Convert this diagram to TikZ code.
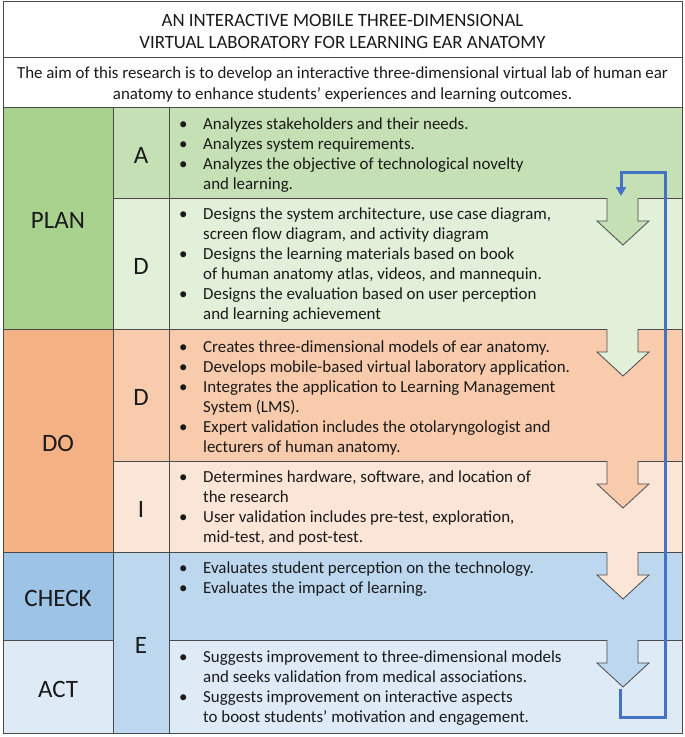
\documentclass[tikz,border=0pt]{standalone}
\usepackage{fontspec}
\setmainfont{Carlito}
\usetikzlibrary{arrows.meta}
\definecolor{bordercol}{HTML}{4A4A4A}
\definecolor{txtcol}{HTML}{1A1A1A}
\definecolor{planC}{HTML}{A9D18E}
\definecolor{planA}{HTML}{C5E0B4}
\definecolor{planD}{HTML}{E2F0D9}
\definecolor{doC}{HTML}{F4B183}
\definecolor{doD}{HTML}{F8CBAD}
\definecolor{doI}{HTML}{FBE5D6}
\definecolor{checkC}{HTML}{9DC3E6}
\definecolor{checkE}{HTML}{BDD7EE}
\definecolor{actC}{HTML}{DEEBF7}
\definecolor{fbblue}{HTML}{4472C4}
\newcommand{\bl}{\makebox[24pt][l]{\textbullet}}
\newcommand{\ind}{\hspace*{24pt}}
\newcommand{\fst}{\rule{0pt}{14pt}}
\newcommand{\cell}[7]{\node[cellbox, fill=#6, minimum width={(#4-#2)*1pt}, minimum height={(#5-#3)*1pt}] (#1) at ({(#2+#4)/2},{(#3+#5)/2}) {#7};}
\begin{document}
\begin{tikzpicture}[x=1pt,y=-1pt,
  cellbox/.style={draw=bordercol, line width=0.8pt, inner sep=0pt, text=txtcol},
  lbl/.style={font=\fontsize{25}{28}\selectfont},
  listtext/.style={anchor=north west, align=left, inner sep=0pt, text=txtcol, font=\fontsize{16.9}{20}\selectfont},
  headtext/.style={anchor=north, align=center, inner sep=0pt, text=txtcol},
  arrowline/.style={draw=bordercol, line width=0.8pt, line join=miter},
  feedback/.style={draw=fbblue, line width=3pt}]
\useasboundingbox (0,0) rectangle (685,737);
\fill[white] (0,0) rectangle (685,737);
% header
\cell{title}{3}{1}{682}{57}{white}{}
\cell{aim}{3}{57}{682}{107}{white}{}
\node[headtext, font=\fontsize{18.8}{22}\selectfont] (titletext) at (342.5,11) {\rule{0pt}{15pt}AN INTERACTIVE MOBILE THREE-DIMENSIONAL\\ VIRTUAL LABORATORY FOR LEARNING EAR ANATOMY};
\node[headtext, font=\fontsize{16.9}{21}\selectfont] (aimtext) at (342.5,64) {\fst The aim of this research is to develop an interactive three-dimensional virtual lab of human ear\\ anatomy to enhance students’ experiences and learning outcomes.};
% phase column
\cell{plan}{3}{107}{113}{329}{planC}{}
\cell{do}{3}{329}{113}{552}{doC}{}
\cell{check}{3}{552}{113}{640}{checkC}{}
\cell{act}{3}{640}{113}{733}{actC}{}
% letter column
\cell{la}{113}{107}{169}{198}{planA}{}
\cell{lpd}{113}{198}{169}{329}{planD}{}
\cell{ldd}{113}{329}{169}{461}{doD}{}
\cell{li}{113}{461}{169}{552}{doI}{}
\cell{le}{113}{552}{169}{733}{checkE}{}
\foreach \n/\t in {plan/PLAN, do/DO, check/CHECK, act/ACT, la/A, lpd/D, ldd/D, li/I, le/E}
  \node[lbl, text=txtcol, yshift=-2.5pt] (\n-label) at (\n) {\t};
% text column
\cell{ta}{169}{107}{682}{198}{planA}{}
\cell{tpd}{169}{198}{682}{329}{planD}{}
\cell{tdd}{169}{329}{682}{461}{doD}{}
\cell{ti}{169}{461}{682}{552}{doI}{}
\cell{tc}{169}{552}{682}{640}{checkE}{}
\cell{tact}{169}{640}{682}{733}{actC}{}
\node[listtext] (xa) at (179,115.5) {\fst\bl Analyzes stakeholders and their needs.\\ \bl Analyzes system requirements.\\ \bl Analyzes the objective of technological novelty\\ \ind and learning.};
\node[listtext] (xpd) at (179,205) {\fst\bl Designs the system architecture, use case diagram,\\ \ind screen flow diagram, and activity diagram\\ \bl Designs the learning materials based on book\\ \ind of human anatomy atlas, videos, and mannequin.\\ \bl Designs the evaluation based on user perception\\ \ind and learning achievement};
\node[listtext] (xdd) at (179,338.5) {\fst\bl Creates three-dimensional models of ear anatomy.\\ \bl Develops mobile-based virtual laboratory application.\\ \bl Integrates the application to Learning Management\\ \ind System (LMS).\\ \bl Expert validation includes the otolaryngologist and\\ \ind lecturers of human anatomy.};
\node[listtext] (xi) at (179,468.5) {\fst\bl Determines hardware, software, and location of\\ \ind the research\\ \bl User validation includes pre-test, exploration,\\ \ind mid-test, and post-test.};
\node[listtext] (xc) at (179,559.5) {\fst\bl Evaluates student perception on the technology.\\ \bl Evaluates the impact of learning.};
\node[listtext] (xact) at (179,648) {\fst\bl Suggests improvement to three-dimensional models\\ \ind and seeks validation from medical associations.\\ \bl Suggests improvement on interactive aspects\\ \ind to boost students’ motivation and engagement.};
% block arrows
\foreach \yb/\col in {198/planA, 329/planD, 461/doD, 552/doI, 640/checkE}{
  \fill[\col] (607,\yb-1.5) -- (607,\yb+23) -- (597,\yb+23) -- (623,\yb+47) -- (649,\yb+23) -- (638,\yb+23) -- (638,\yb-1.5) -- cycle;
  \draw[arrowline] (607,\yb) -- (607,\yb+23) -- (597,\yb+23) -- (623,\yb+47) -- (649,\yb+23) -- (638,\yb+23) -- (638,\yb);
}
% feedback loop
\coordinate (fbstart) at (620,689);
\coordinate (fbend) at (621,196);
\draw[feedback, -{Triangle[length=9pt,width=10pt]}] (fbstart) |- (665,717) |- (621,172) -- (fbend);
\end{tikzpicture}
\end{document}
